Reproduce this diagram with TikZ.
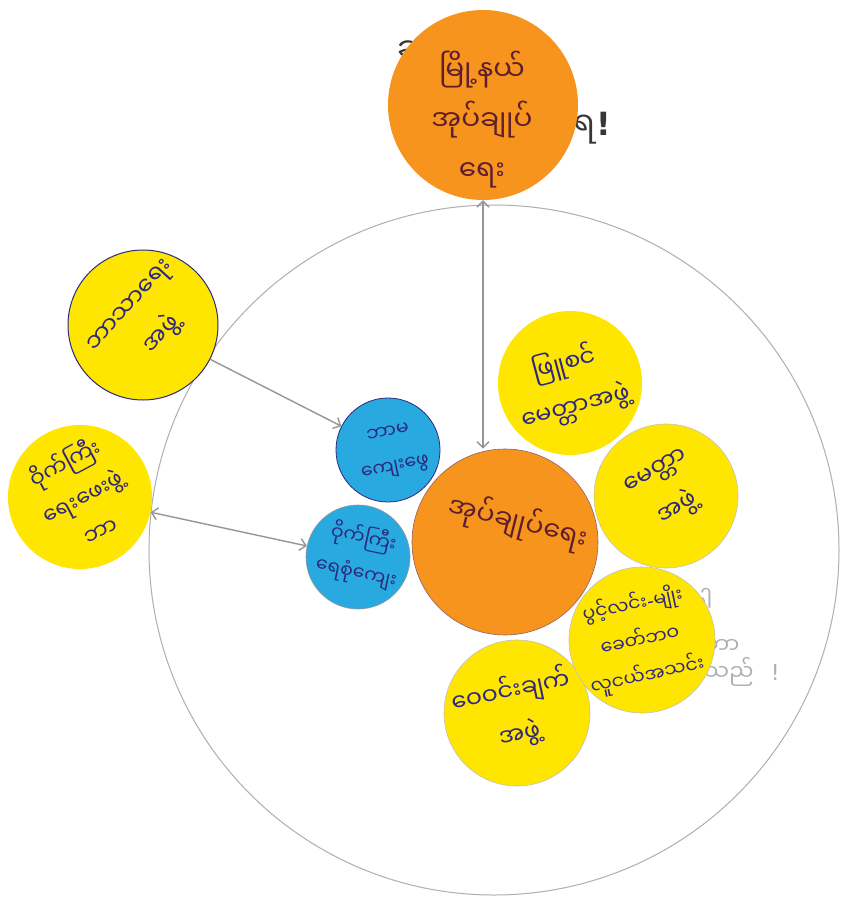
\documentclass[tikz,border=0pt]{standalone}
\usepackage{fontspec}
\newfontfamily\mya[Script=Myanmar]{Noto Sans Myanmar UI}
\newfontfamily\djv{DejaVu Sans}
\usetikzlibrary{arrows.meta}
\definecolor{org}{RGB}{247,148,30}
\definecolor{yel}{RGB}{255,230,0}
\definecolor{blu}{RGB}{40,170,225}
\definecolor{ink}{RGB}{45,40,125}
\definecolor{inkr}{RGB}{95,30,45}
\definecolor{pencil}{RGB}{150,150,150}
\definecolor{lightpencil}{RGB}{175,175,175}
\definecolor{marker}{RGB}{55,55,55}
\begin{document}
\begin{tikzpicture}[x=1pt,y=-1pt,
  disc/.style={circle,inner sep=0pt,draw=none},
  ytxt/.style={align=center,text=ink,font=\mya\fontsize{24}{44}\selectfont},
  btxt/.style={align=center,text=ink,font=\mya\fontsize{19}{35}\selectfont},
  otxt/.style={align=center,text=inkr,font=\mya\fontsize{28}{50}\selectfont},
  conn/.style={draw=pencil,line width=1.4pt},
  >={Straight Barb[length=6pt,width=12pt]}]
\useasboundingbox (0,0) rectangle (842,902);
\fill[white] (0,0) rectangle (842,902);
% big pencil circle
\node[disc,draw=lightpencil,line width=1pt,minimum size=690pt] (big) at (494,550) {};
% hidden marker text
\node[text=marker,font=\mya\fontsize{34}{34}\selectfont] (hidA) at (416,52) {ဆ};
\node[text=marker,font=\mya\fontsize{32}{32}\selectfont] (hidB) at (592,128) {ရ\hspace{1pt}{\djv\bfseries !}};
\node[text=lightpencil,font=\mya\fontsize{22}{22}\selectfont] (hidC) at (702,600) {ပါ};
\node[text=lightpencil,font=\mya\fontsize{22}{22}\selectfont] (hidD) at (722,646) {ဘာ};
\node[text=lightpencil,font=\mya\fontsize{22}{22}\selectfont] (hidE) at (742,672) {သည်\ \ \ {\djv !}};
% discs
\node[disc,fill=org,minimum size=190pt] (topc) at (483,105) {};
\node[disc,fill=yel,draw=ink,line width=1pt,minimum size=150pt] (tl) at (143,325) {};
\node[disc,fill=yel,minimum size=144pt] (lft) at (80,497) {};
\node[disc,fill=blu,draw=ink,line width=0.8pt,minimum size=104pt] (b1) at (388,450) {};
\node[disc,fill=blu,draw=pencil,line width=0.6pt,minimum size=104pt] (b2) at (358,557) {};
\node[disc,fill=org,draw=inkr!70,line width=0.6pt,minimum size=186pt] (ctr) at (505,542) {};
\node[disc,fill=yel,draw=pencil!60,line width=0.6pt,minimum size=146pt] (y4) at (517,713) {};
\node[disc,fill=yel,draw=pencil!60,line width=0.6pt,minimum size=146pt] (y3) at (642,640) {};
\node[disc,fill=yel,minimum size=144pt] (y1) at (570,383) {};
\node[disc,fill=yel,draw=pencil!60,line width=0.6pt,minimum size=144pt] (y2) at (666,496) {};
% texts
\node[otxt] (toptxt) at (482,120) {မြို့နယ်\\အုပ်ချုပ်\\ရေး};
\node[otxt,rotate=-14,font=\mya\fontsize{27}{40}\selectfont] (ctrtxt) at (518,522) {အုပ်ချုပ်ရေး};
\node[ytxt,rotate=48] (tltxt) at (148,322) {ဘာသာရေး\\အဖွဲ့};
\node[ytxt,rotate=28,font=\mya\fontsize{22}{38}\selectfont] (lfttxt) at (82,495) {ဝိုက်ကြီး\\ရေးဖေးဖွဲ့\\ဘာ};
\node[btxt,rotate=12] (b1txt) at (392,452) {ဘာမ\\ကျေးဖွေ};
\node[btxt,rotate=-12] (b2txt) at (360,555) {ဝိုက်ကြီး\\ရေစုံကျေး};
\node[ytxt,rotate=15] (y1txt) at (570,385) {ဖြူစင်\\မေတ္တာအဖွဲ့};
\node[ytxt,rotate=30] (y2txt) at (668,492) {မေတ္တာ\\အဖွဲ့};
\node[ytxt,rotate=12,font=\mya\fontsize{19}{36}\selectfont] (y3txt) at (640,640) {ပွင့်လင်း{\djv -}မျိုး\\ခေတ်ဘဝ\\လူငယ်အသင်း};
\node[ytxt,rotate=12] (y4txt) at (515,712) {ဝေဝင်းချက်\\အဖွဲ့};
% connectors
\draw[conn,<->] (topc.south) -- (ctr.north -| topc.south);
\draw[conn,->] (tl) -- (b1);
\draw[conn,<->] (lft) -- (b2);
\end{tikzpicture}
\end{document}
